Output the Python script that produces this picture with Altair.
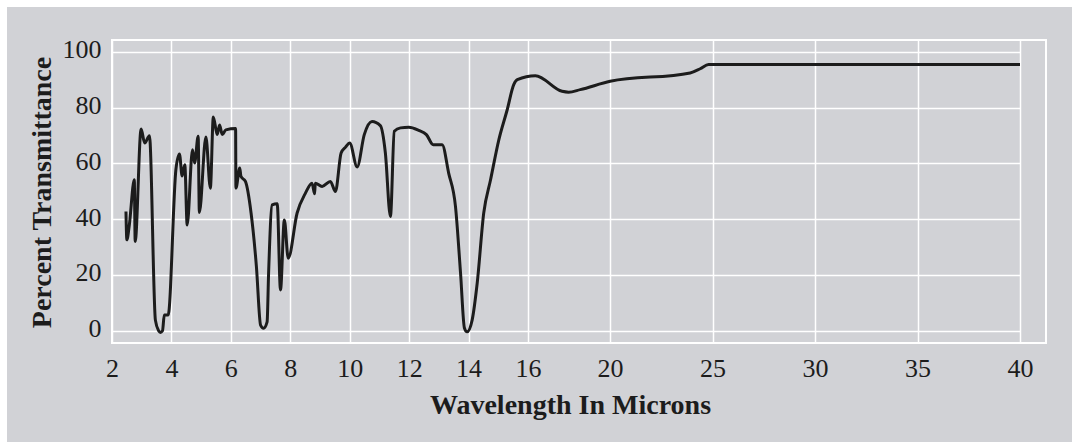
import altair as alt
import pandas as pd

# Infrared spectrum: wavelength (microns) vs percent transmittance
wavelength = [
    2.47, 2.50, 2.58, 2.75, 2.78, 2.98, 3.10, 3.26, 3.46, 3.57, 3.63, 3.70,
    3.76, 3.89, 4.15, 4.27, 4.36, 4.45, 4.53, 4.71, 4.78, 4.90, 4.94, 5.16,
    5.31, 5.41, 5.54, 5.62, 5.71, 5.83, 6.16, 6.17, 6.30, 6.34, 6.49, 6.68,
    6.86, 7.00, 7.10, 7.22, 7.27, 7.39, 7.56, 7.67, 7.80, 7.93, 8.23, 8.51,
    8.73, 8.82, 8.84, 9.07, 9.35, 9.52, 9.71, 9.86, 10.00, 10.25, 10.49,
    10.75, 11.03, 11.20, 11.37, 11.50, 11.71, 11.99, 12.32, 12.58, 12.81,
    13.11, 13.33, 13.56, 13.73, 13.86, 13.95, 14.12, 14.29, 14.51, 14.74,
    15.02, 15.30, 15.52, 15.64, 16.36, 17.66, 17.98, 18.55, 20.01, 23.91,
    24.40, 24.81, 40.00,
]
transmittance = [
    42.7, 32.6, 37.6, 54.1, 32.0, 72.3, 67.3, 69.9, 3.8, 0.0, -0.6, 0.0,
    5.6, 5.6, 57.7, 63.3, 55.5, 59.5, 37.9, 64.9, 60.1, 69.7, 42.4, 69.4,
    51.1, 76.6, 70.3, 73.7, 70.3, 72.0, 72.5, 51.1, 58.3, 55.3, 53.5, 42.2,
    23.0, 2.0, 0.9, 3.2, 20.6, 45.1, 45.5, 14.6, 39.7, 26.0, 42.2, 49.3,
    52.9, 49.1, 52.9, 51.7, 53.5, 49.9, 63.7, 65.8, 67.3, 58.7, 70.3,
    75.0, 73.5, 63.7, 40.9, 71.5, 72.7, 72.9, 71.8, 70.3, 66.7,
    66.7, 56.5, 44.5, 20.6, 1.0, -0.4, 3.8, 17.0, 42.2, 54.1,
    68.5, 79.2, 88.2, 90.0, 91.4, 85.8, 85.5, 86.4, 89.4, 92.4,
    93.9, 95.4, 95.4,
]
x_ticks = [2, 4, 6, 8, 10, 12, 14, 16, 20, 25, 30, 35, 40]
y_ticks = [0, 20, 40, 60, 80, 100]

spectrum = pd.DataFrame({"wavelength": wavelength, "transmittance": transmittance})
one_row = pd.DataFrame({"k": [0]})

PANEL = "#d1d2d6"
INK = "#1c1c1c"
FONT = "Liberation Serif"

# The wavelength axis is stretched below 16 microns and compressed above it
x_enc = alt.X(
    "wavelength:Q",
    scale=alt.Scale(domain=[2, 16, 40], range=[0, 416, 908]),
    axis=alt.Axis(
        values=x_ticks,
        title="Wavelength In Microns",
        labelPadding=12,
        labelFlush=False,
        titleX=458,
        titleY=70,
        titleAnchor="middle",
        titleBaseline="alphabetic",
    ),
)
y_enc = alt.Y(
    "transmittance:Q",
    scale=alt.Scale(domain=[-4.4, 104.2], nice=False, zero=False),
    axis=alt.Axis(
        values=y_ticks,
        title="Percent Transmittance",
        labelPadding=11,
        labelOffset=-2,
        labelFlush=False,
        titleX=-62,
        titleY=152,
        titleAnchor="middle",
        titleBaseline="alphabetic",
    ),
)

curve = alt.Chart(spectrum).mark_line(
    color=INK, strokeWidth=3, interpolate="monotone", strokeJoin="round"
).encode(x=x_enc, y=y_enc)

# thin white margins along the top and left edges of the canvas
top_strip = alt.Chart(one_row).mark_rect(color="white").encode(
    x=alt.value(-112), x2=alt.value(960), y=alt.value(-40), y2=alt.value(-33)
)
left_strip = alt.Chart(one_row).mark_rect(color="white").encode(
    x=alt.value(-112), x2=alt.value(-105), y=alt.value(-40), y2=alt.value(402)
)

chart = (
    alt.layer(curve, top_strip, left_strip)
    .properties(
        width=934,
        height=303,
        background=PANEL,
        padding={"left": 112, "top": 40, "right": 26, "bottom": 99},
        autosize=alt.AutoSizeParams(type="none"),
    )
    .configure_view(fill=PANEL, stroke="white", strokeWidth=2)
    .configure_axis(
        domain=False,
        ticks=False,
        grid=True,
        gridColor="white",
        gridWidth=1.5,
        gridOpacity=1,
        labelFont=FONT,
        labelFontSize=26,
        labelColor=INK,
        titleFont=FONT,
        titleFontSize=28,
        titleFontWeight="bold",
        titleColor=INK,
    )
)

chart.save("out.html", embed_options={"renderer": "svg", "actions": False})
